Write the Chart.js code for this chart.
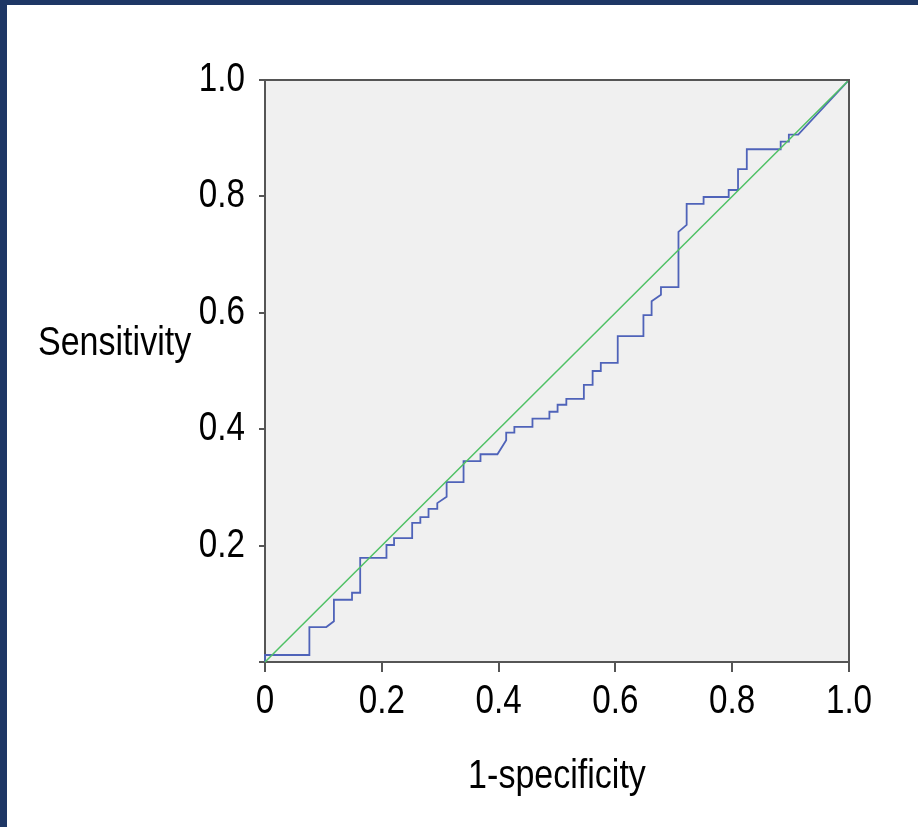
<!DOCTYPE html>
<html>
<head>
<meta charset="utf-8">
<script src="https://cdn.jsdelivr.net/npm/chart.js@4/dist/chart.umd.min.js"></script>
<style>
  html, body { margin: 0; padding: 0; background: #ffffff; }
  body { width: 918px; height: 827px; position: relative; overflow: hidden; }
  #wrap { position: absolute; left: 0; top: 0; width: 918px; height: 827px; }
  .bar { position: absolute; background: #1e3765; }
</style>
</head>
<body>
<div id="wrap"><canvas id="c" width="918" height="827"></canvas></div>
<div class="bar" style="left:0;top:0;width:918px;height:5px;"></div>
<div class="bar" style="left:0;top:0;width:7px;height:827px;"></div>
<script>
// ROC curve points (1-specificity, sensitivity)
const fpr = [0, 0, 0.076, 0.076, 0.105, 0.118, 0.118, 0.149, 0.149, 0.163, 0.163, 0.208, 0.208, 0.221, 0.221,
  0.252, 0.252, 0.266, 0.266, 0.280, 0.280, 0.295, 0.295, 0.311, 0.311, 0.340, 0.340, 0.369, 0.369, 0.398,
  0.413, 0.413, 0.427, 0.427, 0.458, 0.458, 0.487, 0.487, 0.501, 0.501, 0.516, 0.516, 0.546, 0.546, 0.561,
  0.561, 0.575, 0.575, 0.604, 0.604, 0.648, 0.648, 0.662, 0.662, 0.678, 0.678, 0.708, 0.708, 0.722, 0.722,
  0.751, 0.751, 0.794, 0.794, 0.810, 0.810, 0.825, 0.825, 0.883, 0.883, 0.897, 0.897, 0.913, 1];
const tpr = [0, 0.012, 0.012, 0.060, 0.060, 0.070, 0.107, 0.107, 0.119, 0.119, 0.179, 0.179, 0.201, 0.201, 0.213,
  0.213, 0.239, 0.239, 0.249, 0.249, 0.263, 0.263, 0.273, 0.284, 0.309, 0.309, 0.345, 0.345, 0.357, 0.357,
  0.381, 0.394, 0.394, 0.404, 0.404, 0.418, 0.418, 0.430, 0.430, 0.442, 0.442, 0.452, 0.452, 0.476, 0.476,
  0.500, 0.500, 0.514, 0.514, 0.560, 0.560, 0.596, 0.596, 0.620, 0.631, 0.644, 0.644, 0.739, 0.751, 0.787,
  0.787, 0.799, 0.799, 0.811, 0.811, 0.847, 0.847, 0.881, 0.881, 0.894, 0.894, 0.906, 0.906, 1];
// Reference (chance) diagonal
const refX = [0, 1];
const refY = [0, 1];
// Axis tick labels
const xTickValues = [0, 0.2, 0.4, 0.6, 0.8, 1.0];
const xTickLabels = ['0', '0.2', '0.4', '0.6', '0.8', '1.0'];
const yTickValues = [0, 0.2, 0.4, 0.6, 0.8, 1.0];
const yTickLabels = ['', '0.2', '0.4', '0.6', '0.8', '1.0'];
const xTitle = '1-specificity';
const yTitle = 'Sensitivity';

const FONT = "'Liberation Sans Narrow', 'Arial Narrow', 'Liberation Sans', Arial, sans-serif";
const AXIS = '#555555';
const CONDENSE = 0.83;

const canvas = document.getElementById('c');
const ctx2d = canvas.getContext('2d');
// Emulate a narrow (condensed) typeface: squeeze text horizontally around its anchor.
const origFillText = ctx2d.fillText;
ctx2d.fillText = function (t, x, y, mw) {
  this.save();
  this.translate(x, y);
  this.scale(CONDENSE, 1);
  if (mw === undefined) origFillText.call(this, t, 0, 0);
  else origFillText.call(this, t, 0, 0, mw / CONDENSE);
  this.restore();
};

const frame = {
  id: 'frame',
  beforeDraw(chart) {
    const a = chart.chartArea, ctx = chart.ctx;
    ctx.save();
    ctx.fillStyle = '#f0f0f0';
    ctx.fillRect(a.left, a.top, a.right - a.left, a.bottom - a.top);
    ctx.restore();
  },
  afterDraw(chart) {
    const a = chart.chartArea, ctx = chart.ctx;
    ctx.save();
    ctx.strokeStyle = AXIS;
    ctx.lineWidth = 2;
    ctx.beginPath();
    ctx.moveTo(a.left, a.top);
    ctx.lineTo(a.right, a.top);
    ctx.lineTo(a.right, a.bottom);
    ctx.stroke();
    // horizontal y-axis title
    ctx.fillStyle = '#000';
    ctx.font = '41px ' + FONT;
    ctx.textAlign = 'left';
    ctx.textBaseline = 'middle';
    ctx.fillText(yTitle, 38, 344);
    ctx.restore();
  }
};

new Chart(canvas, {
  type: 'scatter',
  data: {
    datasets: [
      {
        label: 'Reference line',
        data: refX.map((x, i) => ({ x, y: refY[i] })),
        showLine: true,
        borderColor: '#4fc165',
        borderWidth: 1.5,
        pointRadius: 0,
        clip: false
      },
      {
        label: 'ROC',
        data: fpr.map((x, i) => ({ x, y: tpr[i] })),
        showLine: true,
        borderColor: '#4f63b9',
        borderWidth: 1.8,
        pointRadius: 0,
        clip: false
      }
    ]
  },
  options: {
    responsive: false,
    animation: false,
    events: [],
    layout: { padding: { left: 0, top: 80, right: 69, bottom: 0 } },
    plugins: { legend: { display: false }, tooltip: { enabled: false } },
    scales: {
      x: {
        type: 'linear', min: 0, max: 1,
        afterFit(s) { s.height = 165; },
        afterBuildTicks(s) { s.ticks = xTickValues.map(v => ({ value: v })); },
        ticks: {
          color: '#000', font: { family: FONT, size: 40 }, padding: 6, maxRotation: 0,
          callback: (v, i) => xTickLabels[i]
        },
        grid: { drawOnChartArea: false, drawTicks: true, tickLength: 10, color: AXIS, lineWidth: 2 },
        border: { display: true, color: AXIS, width: 2 },
        title: { display: true, text: xTitle, color: '#000', font: { family: FONT, size: 41 }, padding: { top: 0, bottom: 26 } }
      },
      y: {
        type: 'linear', min: 0, max: 1,
        afterFit(s) { s.width = 265; },
        afterBuildTicks(s) { s.ticks = yTickValues.map(v => ({ value: v })); },
        ticks: {
          color: '#000', font: { family: FONT, size: 40 }, padding: 14,
          callback: (v, i) => yTickLabels[i]
        },
        grid: { drawOnChartArea: false, drawTicks: true, tickLength: 6, color: AXIS, lineWidth: 2 },
        border: { display: true, color: AXIS, width: 2 }
      }
    }
  },
  plugins: [frame]
});
</script>
</body>
</html>
